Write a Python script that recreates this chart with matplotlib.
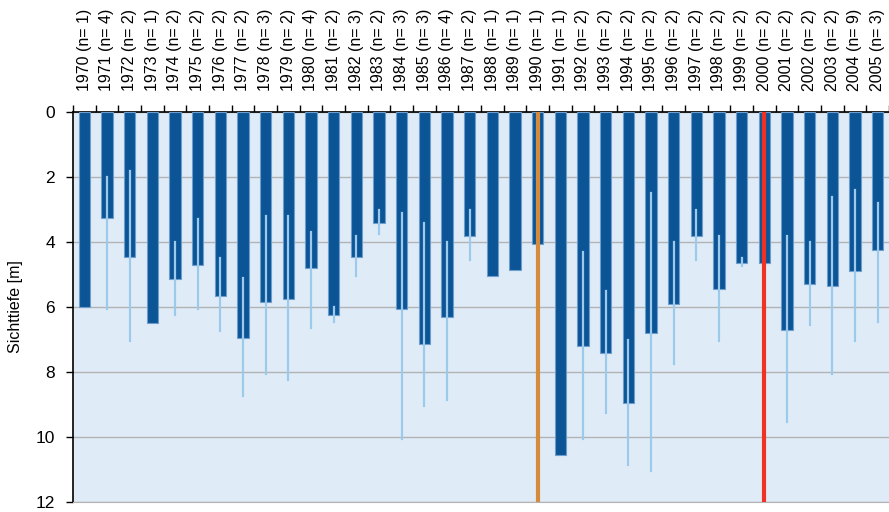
import matplotlib
matplotlib.use("Agg")
import matplotlib.pyplot as plt
import numpy as np

plt.rcParams['font.family'] = ['Liberation Sans', 'DejaVu Sans']

# Sichttiefe (Secchi depth) per year, in m
years = list(range(1970, 2006))
n_obs = [1, 4, 2, 1, 2, 2, 2, 2, 3, 2, 4, 2, 3, 2, 3, 3, 4, 2,
         1, 1, 1, 1, 2, 2, 2, 2, 2, 2, 2, 2, 2, 2, 2, 2, 9, 3]
mean_depth = [6.0, 3.25, 4.45, 6.5, 5.15, 4.7, 5.65, 6.95, 5.85, 5.75, 4.8, 6.25,
              4.45, 3.4, 6.05, 7.15, 6.3, 3.8, 5.05, 4.85, 4.05, 10.55, 7.2, 7.4,
              8.95, 6.8, 5.9, 3.8, 5.45, 4.65, 4.65, 6.7, 5.3, 5.35, 4.9, 4.25]
min_depth = [6.0, 2.0, 1.8, 6.5, 4.0, 3.3, 4.5, 5.1, 3.2, 3.2, 3.7, 6.0,
             3.8, 3.0, 3.1, 3.4, 4.0, 3.0, 5.05, 4.85, 4.05, 10.55, 4.3, 5.5,
             7.0, 2.5, 4.0, 3.0, 3.8, 4.5, 4.65, 3.8, 4.0, 2.6, 2.4, 2.8]
max_depth = [6.0, 6.05, 7.05, 6.5, 6.25, 6.05, 6.75, 8.75, 8.05, 8.25, 6.65, 6.45,
             5.05, 3.75, 10.05, 9.05, 8.85, 4.55, 5.05, 4.85, 4.05, 10.55, 10.05, 9.25,
             10.85, 11.05, 7.75, 4.55, 7.05, 4.75, 4.65, 9.55, 6.55, 8.05, 7.05, 6.45]
labels = ["%d (n=%2d)" % (y, n) for y, n in zip(years, n_obs)]
marker_years = {1990: "#d68a3b", 2000: "#ee3325"}

fig = plt.figure(figsize=(8.89, 5.12), dpi=100)
ax = fig.add_axes([73 / 889, 10 / 512, 816 / 889, 390 / 512])
ax.set_facecolor("#dfecf8")

x = np.arange(len(years))
ax.bar(x, mean_depth, width=0.5, color="#0b5596", edgecolor="#6d9dcc",
       linewidth=0.8, zorder=3)
ax.vlines(x, min_depth, max_depth, color="#9dc9ea", linewidth=1.6, zorder=4,
          capstyle="projecting")

for yr, col in marker_years.items():
    ax.axvline(years.index(yr), color=col, linewidth=3.0, zorder=5)

ax.set_xlim(-0.5, len(years) - 0.5)
ax.set_ylim(12, 0)
ax.set_yticks(range(0, 13, 2))
ax.yaxis.grid(True, color="#b3b3b3", linewidth=1.0, zorder=1)
ax.tick_params(axis="y", direction="out", length=5, width=1, labelsize=12.5, pad=8)
ax.set_ylabel("Sichttiefe [m]", fontsize=11.5, labelpad=9)

ax.xaxis.tick_top()
ax.set_xticks(x)
ax.set_xticklabels(labels, rotation=90, fontsize=11.5)
ax.tick_params(axis="x", which="major", length=0, pad=15)
ax.set_xticks(np.arange(-0.5, len(years), 1.0), minor=True)
ax.tick_params(axis="x", which="minor", top=True, bottom=False, length=5,
               width=1, direction="out")

ax.spines["right"].set_visible(False)
ax.spines["bottom"].set_color("#b3b3b3")
ax.spines["left"].set_linewidth(1.2)
ax.spines["top"].set_linewidth(1.2)

fig.savefig("out.png", dpi=100)
